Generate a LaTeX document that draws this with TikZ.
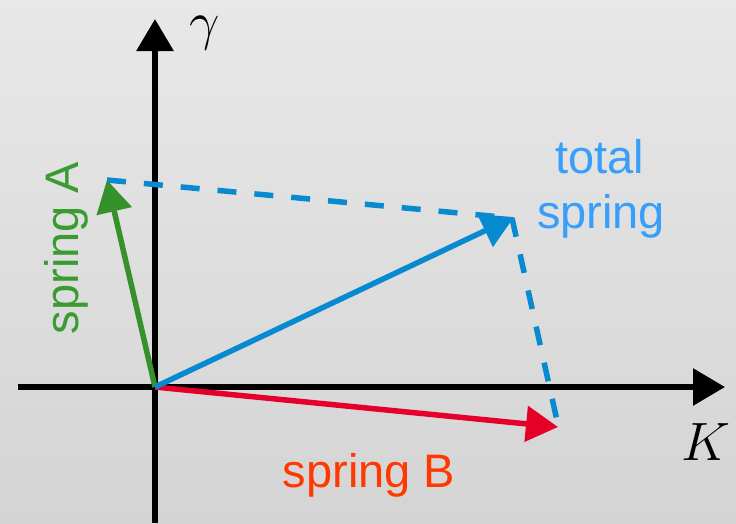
\RequirePackage{fix-cm}
\documentclass[tikz,border=0pt]{standalone}
\usepackage{fontspec}
\setmainfont{Liberation Sans}
\usetikzlibrary{arrows.meta}
\definecolor{bgtop}{RGB}{232,232,232}
\definecolor{bgbot}{RGB}{212,212,212}
\definecolor{vgreen}{RGB}{55,145,42}
\definecolor{tgreen}{RGB}{58,155,48}
\definecolor{vblue}{RGB}{8,138,208}
\definecolor{tblue}{RGB}{55,158,250}
\definecolor{vred}{RGB}{228,0,40}
\definecolor{tred}{RGB}{255,55,0}
\begin{document}
\begin{tikzpicture}[x=1pt,y=-1pt,
  vec/.style={line width=5.5pt,-{Triangle[length=32pt,width=35pt]}},
  axis/.style={line width=6pt,black,-{Triangle[length=32pt,width=36pt]}},
  guide/.style={line width=5.5pt,vblue,dash pattern=on 19pt off 18pt},
  lbl/.style={font=\fontsize{47}{50}\selectfont,inner sep=0pt},
  mlbl/.style={font=\fontsize{54}{60}\selectfont,inner sep=0pt}]
\shade[top color=bgtop,bottom color=bgbot] (0,0) rectangle (736,523);
\useasboundingbox (0,0) rectangle (736,523);
\coordinate (O) at (155,387);
\coordinate (yb) at (155,523);
\coordinate (yt) at (155,19);
\coordinate (xl) at (18,387);
\coordinate (xr) at (725,387);
\coordinate (A) at (107,180);
\coordinate (T) at (514,217);
\coordinate (C) at (512,218);
\coordinate (D) at (558,425);
\coordinate (B) at (558,427);
% axes
\draw[axis] (yb) -- (yt);
\draw[axis] (xl) -- (xr);
% guides
\draw[guide] (A) -- (C) -- (D);
% vectors
\draw[vec,vgreen] (O) -- (A);
\draw[vec,vred] (O) -- (B);
\draw[vec,vblue] (O) -- (T);
% labels
\node[mlbl,anchor=base] (g) at (205,39) {$\gamma$};
\node[mlbl,anchor=base] (k) at (706,460) {$K$};
\node[lbl,text=tblue,anchor=base] (tot1) at (600,173) {total};
\node[lbl,text=tblue,anchor=base] (tot2) at (601,228) {spring};
\node[lbl,text=tgreen,rotate=90,anchor=base] (sa) at (78,248) {spring A};
\node[lbl,text=tred,anchor=base] (sb) at (369,487) {spring B};
\end{tikzpicture}
\end{document}
